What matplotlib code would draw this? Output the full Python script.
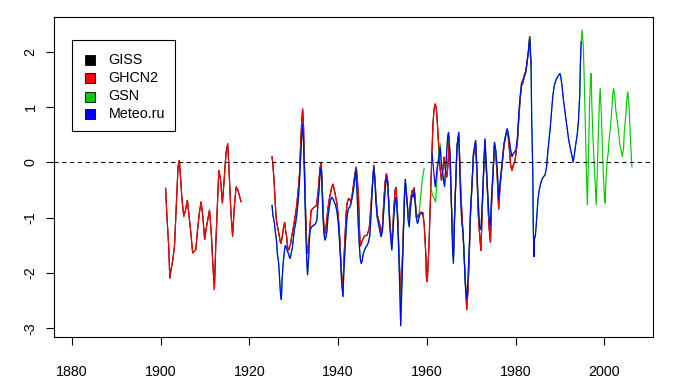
import matplotlib
matplotlib.use("Agg")
import matplotlib.pyplot as plt
from matplotlib.patches import Rectangle

plt.rcParams['font.family'] = ['Liberation Sans', 'DejaVu Sans']
plt.rcParams['lines.scale_dashes'] = False

# ---------------- data (year, anomaly) ----------------
ghcn2_years_a = [1901.1, 1901.4, 1901.8, 1902.05, 1902.3, 1902.7, 1903.1, 1903.5, 1903.9, 1904.2,
                 1904.5, 1904.8, 1905.2, 1905.6, 1906.0, 1906.4, 1906.8, 1907.2, 1907.5, 1907.9,
                 1908.3, 1908.7, 1909.1, 1909.5, 1909.9, 1910.2, 1910.6, 1911.0, 1911.4, 1911.7,
                 1912.1, 1912.4, 1912.7, 1913.1, 1913.5, 1913.9, 1914.3, 1914.7, 1915.1, 1915.4,
                 1915.8, 1916.2, 1916.6, 1917.0, 1917.4, 1917.8, 1918.1]
ghcn2_vals_a = [-0.47, -0.98, -1.52, -2.10, -1.95, -1.77, -1.52, -0.80, -0.08, 0.04,
                -0.32, -0.68, -0.98, -0.86, -0.68, -0.98, -1.28, -1.64, -1.61, -1.58,
                -1.22, -0.92, -0.71, -0.98, -1.40, -1.22, -1.04, -0.86, -1.28, -1.77,
                -2.31, -1.52, -0.92, -0.14, -0.32, -0.74, -0.32, 0.16, 0.34, -0.14,
                -0.86, -1.34, -0.80, -0.44, -0.50, -0.62, -0.71]

ghcn2_years_b = [1925.1, 1925.3, 1925.55, 1925.75, 1926.0, 1926.2, 1926.5, 1926.8, 1927.05, 1927.25,
                 1927.5, 1927.7, 1927.95, 1928.15, 1928.4, 1928.6, 1928.85, 1929.05, 1929.3, 1929.5,
                 1929.8, 1930.1, 1930.4, 1930.7, 1931.0, 1931.3, 1931.55, 1931.8, 1932.0, 1932.2,
                 1932.45, 1932.7, 1932.9, 1933.1, 1933.35, 1933.6, 1933.9, 1934.2, 1934.6, 1935.1,
                 1935.45, 1935.7, 1935.9, 1936.15, 1936.35, 1936.6, 1936.8, 1937.05, 1937.35, 1937.65,
                 1937.95, 1938.25, 1938.55, 1938.85, 1939.15, 1939.45, 1939.75, 1940.05, 1940.35, 1940.6,
                 1940.8, 1941.1, 1941.3, 1941.55, 1941.8, 1942.0, 1942.3, 1942.6, 1942.9, 1943.2,
                 1943.5, 1943.8, 1944.1, 1944.4, 1944.6, 1944.8, 1945.0, 1945.3, 1945.6, 1946.0,
                 1946.5, 1947.0, 1947.3, 1947.6, 1947.85, 1948.05, 1948.3, 1948.55, 1948.85, 1949.15,
                 1949.45, 1949.75, 1950.0, 1950.3, 1950.6, 1950.9, 1951.2, 1951.4, 1951.65, 1951.85,
                 1952.1, 1952.3, 1952.55, 1952.85, 1953.05, 1953.3, 1953.5, 1953.7, 1953.95, 1954.1,
                 1954.3, 1954.55, 1954.8, 1955.0, 1955.15, 1955.35, 1955.6, 1955.8, 1956.05, 1956.25,
                 1956.5, 1956.7, 1956.95, 1957.15, 1957.4, 1957.6, 1957.9, 1958.1, 1958.35, 1958.65,
                 1958.95, 1959.1, 1959.4, 1959.6, 1959.8, 1959.9, 1960.1, 1960.3, 1960.5, 1960.75,
                 1960.95, 1961.2, 1961.4, 1961.6, 1961.85, 1962.1, 1962.3, 1962.5, 1962.75, 1962.95,
                 1963.3, 1963.6, 1963.9, 1964.2, 1964.5, 1964.8, 1965.05, 1965.3, 1965.6, 1965.85,
                 1966.0, 1966.25, 1966.55, 1966.8, 1967.2, 1967.45, 1967.7, 1968.0, 1968.3, 1968.65,
                 1969.0, 1969.3, 1969.6, 1969.85, 1970.2, 1970.5, 1971.0, 1971.3, 1971.6, 1971.9,
                 1972.2, 1972.5, 1972.8, 1973.1, 1973.4, 1973.7, 1974.0, 1974.35, 1974.6, 1974.95,
                 1975.25, 1975.55, 1975.9, 1976.2, 1976.5, 1976.8, 1977.1, 1977.4, 1977.7, 1978.1,
                 1978.3, 1978.6, 1978.9, 1979.2, 1979.5, 1979.8, 1980.1, 1980.45, 1980.75, 1981.05,
                 1981.35, 1981.7, 1982.0, 1982.3, 1982.6, 1982.9, 1983.2, 1983.45]
ghcn2_vals_b = [0.10, -0.05, -0.33, -0.63, -0.99, -1.10, -1.23, -1.35, -1.47, -1.41,
                -1.29, -1.17, -1.08, -1.23, -1.35, -1.53, -1.59, -1.53, -1.47, -1.35,
                -1.23, -1.08, -0.93, -0.75, -0.50, -0.20, 0.34, 0.76, 0.97, 0.64,
                -0.20, -0.99, -1.47, -1.65, -1.47, -1.23, -0.87, -0.84, -0.81, -0.78,
                -0.57, -0.33, -0.11, 0.00, -0.27, -0.87, -1.17, -1.29, -1.11, -0.87,
                -0.69, -0.57, -0.45, -0.39, -0.50, -0.63, -0.75, -0.99, -1.35, -1.77,
                -2.07, -2.25, -1.77, -1.35, -0.93, -0.75, -0.66, -0.66, -0.72, -0.57,
                -0.39, -0.20, -0.08, -0.39, -0.63, -1.20, -1.52, -1.45, -1.38, -1.33,
                -1.32, -1.20, -0.90, -0.55, -0.25, -0.05, -0.30, -0.65, -0.95, -1.05,
                -1.15, -1.28, -1.15, -0.70, -0.35, -0.20, -0.35, -0.70, -1.05, -1.28,
                -1.45, -1.25, -0.85, -0.50, -0.45, -0.75, -1.10, -1.60, -2.10, -2.55,
                -2.20, -1.60, -0.95, -0.50, -0.38, -0.55, -0.75, -0.95, -1.00, -0.75,
                -0.60, -0.50, -0.55, -0.45, -0.70, -0.90, -1.00, -0.98, -0.92, -0.90,
                -0.93, -0.93, -1.11, -1.41, -1.71, -2.07, -2.16, -1.83, -1.47, -0.87,
                -0.33, 0.28, 0.70, 0.94, 1.06, 1.00, 0.82, 0.52, 0.22, -0.08,
                -0.33, -0.14, 0.10, -0.14, -0.27, -0.02, 0.45, -0.15, -0.90, -1.50,
                -1.70, -0.95, -0.25, 0.30, 0.50, 0.00, -0.60, -1.05, -1.50, -2.10,
                -2.67, -2.30, -1.60, -0.95, -0.40, 0.10, 0.35, -0.20, -0.95, -1.30,
                -1.60, -0.85, -0.20, 0.38, -0.10, -0.60, -1.15, -1.45, -0.75, -0.20,
                0.30, 0.15, -0.30, -0.85, -0.45, -0.20, 0.05, 0.30, 0.45, 0.58,
                0.50, 0.25, -0.05, -0.15, -0.05, 0.00, 0.15, 0.40, 0.80, 1.15,
                1.38, 1.45, 1.55, 1.62, 1.80, 2.00, 2.28, 1.77]

meteo_years_a = [1925.1, 1925.3, 1925.6, 1925.8, 1926.1, 1926.3, 1926.6, 1926.8, 1927.0, 1927.2,
                 1927.4, 1927.6, 1927.9, 1928.1, 1928.3, 1928.5, 1928.8, 1929.0, 1929.2, 1929.4,
                 1929.7, 1929.9, 1930.1, 1930.4, 1930.7, 1931.0, 1931.3, 1931.55, 1931.8, 1932.0,
                 1932.2, 1932.45, 1932.7, 1932.9, 1933.1, 1933.35, 1933.6, 1933.8, 1934.1, 1934.5,
                 1934.9, 1935.2, 1935.45, 1935.7, 1935.9, 1936.15, 1936.35, 1936.6, 1936.8, 1937.05,
                 1937.25, 1937.5, 1937.7, 1937.95, 1938.25, 1938.55, 1938.85, 1939.15, 1939.45, 1939.75,
                 1940.05, 1940.35, 1940.6, 1940.8, 1941.1, 1941.3, 1941.55, 1941.8, 1942.0, 1942.3,
                 1942.6, 1942.9, 1943.3, 1943.65, 1943.9, 1944.0, 1944.25, 1944.5, 1944.8, 1945.0,
                 1945.2, 1945.45, 1945.65, 1945.95, 1946.25, 1946.55, 1946.85, 1947.15, 1947.4, 1947.6,
                 1947.8, 1948.05, 1948.3, 1948.5, 1948.8, 1949.1, 1949.4, 1949.7, 1950.0, 1950.3,
                 1950.6, 1950.9, 1951.2, 1951.4, 1951.6, 1951.85, 1952.1, 1952.3, 1952.55, 1952.85,
                 1953.05, 1953.3, 1953.5, 1953.7, 1953.95, 1954.1, 1954.3, 1954.55, 1954.8, 1955.0,
                 1955.15, 1955.35, 1955.6, 1955.8, 1956.05, 1956.25, 1956.5, 1956.7, 1956.95, 1957.15,
                 1957.4, 1957.6, 1957.9, 1958.1, 1958.35, 1958.65, 1958.95, 1959.2]
meteo_vals_a = [-0.78, -0.96, -1.08, -1.23, -1.41, -1.65, -1.83, -2.10, -2.37, -2.48,
                -2.07, -1.83, -1.59, -1.50, -1.53, -1.59, -1.65, -1.71, -1.74, -1.65,
                -1.53, -1.38, -1.23, -1.11, -0.93, -0.69, -0.33, 0.10, 0.46, 0.70,
                0.40, -0.39, -1.23, -1.71, -2.04, -1.71, -1.29, -1.20, -1.16, -1.14,
                -1.11, -1.05, -0.75, -0.50, -0.20, -0.08, -0.45, -0.99, -1.29, -1.41,
                -1.35, -1.23, -0.99, -0.84, -0.69, -0.63, -0.66, -0.72, -0.78, -0.90,
                -1.11, -1.47, -1.83, -2.19, -2.43, -1.95, -1.59, -1.23, -0.99, -0.84,
                -0.81, -0.75, -0.57, -0.39, -0.20, -0.11, -0.50, -1.05, -1.53, -1.74,
                -1.83, -1.77, -1.65, -1.59, -1.53, -1.50, -1.44, -1.32, -0.99, -0.63,
                -0.33, -0.08, -0.33, -0.69, -0.99, -1.11, -1.23, -1.35, -1.23, -0.87,
                -0.50, -0.27, -0.39, -0.75, -1.11, -1.35, -1.59, -1.35, -0.99, -0.69,
                -0.63, -0.87, -1.23, -1.71, -2.43, -2.96, -2.43, -1.83, -1.11, -0.57,
                -0.30, -0.50, -0.75, -1.05, -1.17, -0.87, -0.69, -0.57, -0.63, -0.50,
                -0.75, -0.99, -1.11, -1.05, -0.96, -0.93, -0.90, -0.92]

meteo_years_b = [1961.2, 1961.6, 1961.9, 1962.3, 1962.6, 1963.0, 1963.35, 1964.0, 1964.7, 1964.9,
                 1965.3, 1965.8, 1966.0, 1966.25, 1966.55, 1966.8, 1967.2, 1967.6, 1967.9, 1968.2,
                 1968.7, 1969.0, 1969.3, 1969.6, 1969.85, 1970.2, 1970.5, 1971.0, 1971.3, 1971.6,
                 1971.9, 1972.2, 1972.5, 1972.8, 1973.1, 1973.4, 1973.7, 1974.0, 1974.3, 1974.6,
                 1974.95, 1975.25, 1975.55, 1975.9, 1976.2, 1976.5, 1976.8, 1977.1, 1977.4, 1977.7,
                 1978.1, 1978.3, 1978.6, 1978.9, 1979.2, 1979.5, 1979.8, 1980.1, 1980.45, 1980.75,
                 1981.05, 1981.35, 1981.7, 1982.0, 1982.3, 1982.6, 1982.9, 1983.2, 1983.5, 1983.65,
                 1983.9, 1984.0, 1984.15, 1984.3, 1984.45, 1984.7, 1984.9, 1985.05, 1985.35, 1985.6,
                 1985.9, 1986.3, 1986.65, 1987.0, 1987.25, 1987.55, 1987.85, 1988.15, 1988.4, 1988.7,
                 1989.0, 1989.3, 1989.6, 1990.0, 1990.2, 1990.5, 1990.8, 1991.1, 1991.4, 1991.7,
                 1992.0, 1992.3, 1992.6, 1992.85, 1993.0, 1993.3, 1993.6, 1993.9, 1994.2, 1994.5,
                 1994.6, 1994.8]
meteo_vals_b = [0.15, -0.20, -0.45, -0.10, 0.00, 0.28, -0.08, -0.44, 0.46, 0.55,
                0.04, -1.53, -1.83, -1.04, -0.32, 0.28, 0.55, -0.62, -1.10, -1.28,
                -2.25, -2.49, -2.07, -1.46, -0.86, -0.38, 0.16, 0.40, -0.14, -0.74,
                -1.16, -1.22, -0.74, -0.14, 0.43, -0.02, -0.50, -0.98, -1.16, -0.62,
                -0.14, 0.37, 0.22, -0.14, -0.68, -0.38, -0.14, 0.10, 0.34, 0.46,
                0.61, 0.55, 0.40, 0.22, 0.10, 0.16, 0.19, 0.22, 0.46, 0.89,
                1.19, 1.43, 1.49, 1.58, 1.64, 1.82, 2.00, 2.25, 1.79, 0.76,
                -0.20, -1.16, -1.71, -1.35, -1.35, -1.10, -0.86, -0.68, -0.50, -0.41,
                -0.32, -0.26, -0.23, -0.08, 0.16, 0.40, 0.64, 0.95, 1.19, 1.37,
                1.46, 1.52, 1.56, 1.61, 1.55, 1.37, 1.13, 0.95, 0.76, 0.58,
                0.40, 0.28, 0.16, 0.07, 0.00, 0.16, 0.34, 0.49, 0.76, 1.25,
                1.70, 2.18]

# GSN: parts where it departs from Meteo.ru (elsewhere it follows the same readings)
gsn_years_1958 = [1958.2, 1958.5, 1958.8, 1959.1, 1959.4]
gsn_vals_1958 = [-1.00, -0.70, -0.45, -0.25, -0.11]
gsn_years_1961 = [1960.9, 1961.3, 1961.7, 1962.0, 1962.3, 1962.6, 1963.0]
gsn_vals_1961 = [-0.45, -0.60, -0.66, -0.72, -0.30, 0.10, 0.35]
gsn_years_1995 = [1995.0, 1995.3, 1995.5, 1995.7, 1995.9, 1996.07, 1996.22, 1996.45, 1996.7, 1996.9,
                  1997.07, 1997.2, 1997.45, 1997.7, 1998.0, 1998.2, 1998.45, 1998.7, 1998.9, 1999.1,
                  1999.35, 1999.6, 1999.8, 2000.05, 2000.2, 2000.4, 2000.65, 2000.9, 2001.1, 2001.4,
                  2001.65, 2001.9, 2002.1, 2002.35, 2002.6, 2002.9, 2003.2, 2003.5, 2003.8, 2004.1,
                  2004.35, 2004.55, 2004.9, 2005.1, 2005.3, 2005.55, 2005.8, 2006.0, 2006.25]
gsn_vals_1995 = [2.40, 2.09, 1.49, 0.82, 0.16, -0.44, -0.77, 0.16, 1.07, 1.49,
                 1.61, 1.07, 0.46, 0.04, -0.50, -0.77, -0.14, 0.58, 1.07, 1.34,
                 0.88, 0.28, -0.20, -0.65, -0.74, -0.32, 0.04, 0.16, 0.40, 0.64,
                 0.88, 1.19, 1.34, 1.22, 0.95, 0.76, 0.58, 0.34, 0.22, 0.10,
                 0.25, 0.58, 0.88, 1.13, 1.28, 1.07, 0.64, 0.28, -0.08]

xticks = [1880, 1900, 1920, 1940, 1960, 1980, 2000]
yticks = [-3, -2, -1, 0, 1, 2]
series_names = ["GISS", "GHCN2", "GSN", "Meteo.ru"]
series_colors = ["#000000", "#FF0000", "#00CD00", "#0000FF"]

# ---------------- assemble segments ----------------
ma = list(zip(meteo_years_a, meteo_vals_a))
mb = list(zip(meteo_years_b, meteo_vals_b))
gsn_a = [p for p in ma if p[0] <= 1957.95] + list(zip(gsn_years_1958, gsn_vals_1958))
gsn_b = (list(zip(gsn_years_1961, gsn_vals_1961)) + [p for p in mb if 1963.2 <= p[0]]
         + list(zip(gsn_years_1995, gsn_vals_1995)))

segments = {
    "GISS": [list(zip(ghcn2_years_a, ghcn2_vals_a)), list(zip(ghcn2_years_b, ghcn2_vals_b))],
    "GHCN2": [list(zip(ghcn2_years_a, ghcn2_vals_a)), list(zip(ghcn2_years_b, ghcn2_vals_b))],
    "GSN": [gsn_a, gsn_b],
    "Meteo.ru": [ma, mb],
}

# ---------------- figure ----------------
W, H = 673, 390
fig = plt.figure(figsize=(W / 100, H / 100), dpi=100)
L, R, T, B = 54.3, 653.0, 17.0, 337.0
ax = fig.add_axes([L / W, 1 - B / H, (R - L) / W, (B - T) / H])

lw = 0.85
for name, col in zip(series_names, series_colors):
    for seg in segments[name]:
        xs = [p[0] for p in seg]
        ys = [p[1] for p in seg]
        ax.plot(xs, ys, color=col, lw=lw, solid_joinstyle='miter')

ax.axhline(0, color='black', lw=0.8, linestyle=(0, (3.0, 2.6)))

ax.set_xlim(1876.0, 2011.0)
ax.set_ylim(-3.157, 2.627)
ax.set_xticks(xticks)
ax.set_xticklabels([str(v) for v in xticks])
ax.set_yticks(yticks)
ax.set_yticklabels([str(v) for v in yticks], rotation=90, va='center')
ax.tick_params(axis='both', direction='out', length=6, width=0.8, labelsize=10.3, colors='black')
ax.tick_params(axis='x', pad=14)
ax.tick_params(axis='y', pad=6)
for sp in ax.spines.values():
    sp.set_linewidth(0.8)
    sp.set_color('black')

# legend (R style box)
def fx(px):
    return px / W

def fy(py):
    return 1 - py / H

fig.patches.append(Rectangle((fx(71.7), fy(131.0)), fx(174.5) - fx(71.7), fy(40.0) - fy(131.0),
                             transform=fig.transFigure, fill=False, edgecolor='black', lw=0.8))
entry_y = [60.0, 78.3, 96.5, 114.3]
for name, col, yy in zip(series_names, series_colors, entry_y):
    fig.patches.append(Rectangle((fx(84.5), fy(yy + 5)), fx(10.5), 10 / H,
                                 transform=fig.transFigure, facecolor=col, edgecolor='black', lw=0.6))
    fig.text(fx(108.5), fy(yy), name, fontsize=10.3, va='center', ha='left')

fig.savefig("out.png", dpi=100)
